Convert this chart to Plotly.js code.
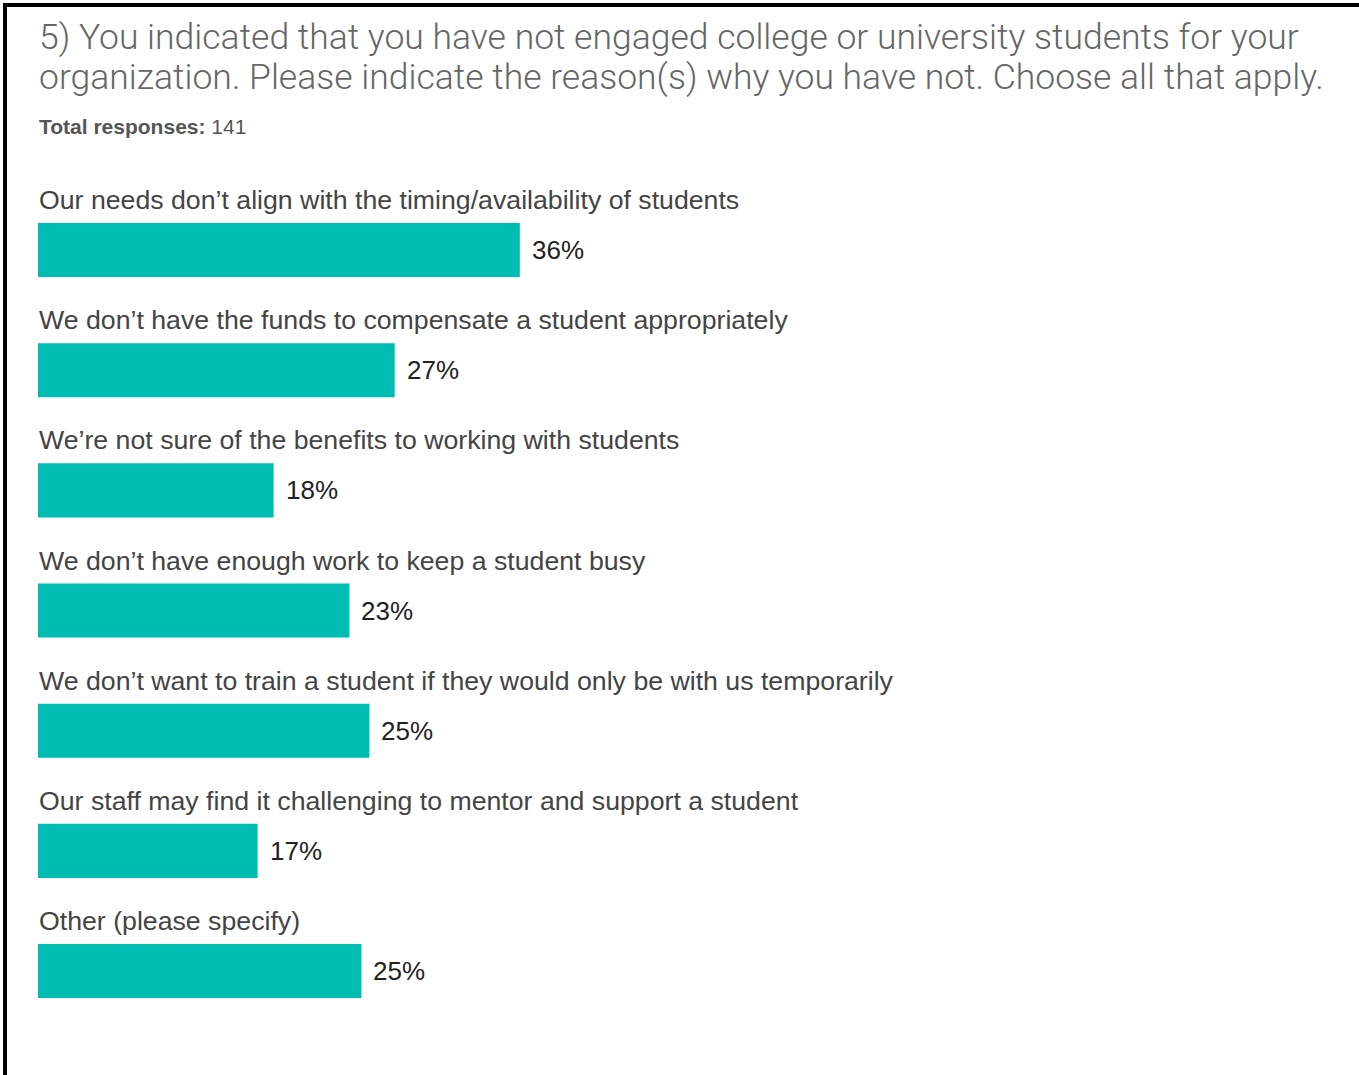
<!DOCTYPE html>
<html>
<head>
<meta charset="utf-8">
<script src="https://cdn.plot.ly/plotly-3.0.1.min.js"></script>
<style>
  html, body { margin: 0; padding: 0; background: #ffffff; }
  #chart { width: 1359px; height: 1075px; }
</style>
</head>
<body>
<div id="chart"></div>
<script>
// ---- Data ----
const reasons = [
  "Our needs don\u2019t align with the timing/availability of students",
  "We don\u2019t have the funds to compensate a student appropriately",
  "We\u2019re not sure of the benefits to working with students",
  "We don\u2019t have enough work to keep a student busy",
  "We don\u2019t want to train a student if they would only be with us temporarily",
  "Our staff may find it challenging to mentor and support a student",
  "Other (please specify)"
];
const percents = [36.2, 26.8, 17.7, 23.4, 24.9, 16.5, 24.3];
const percentLabels = ["36%", "27%", "18%", "23%", "25%", "17%", "25%"];
const totalResponses = 141;
const titleLines = [
  "5) You indicated that you have not engaged college or university students for your",
  "organization. Please indicate the reason(s) why you have not. Choose all that apply."
];

// ---- Layout constants ----
const FIG_W = 1359, FIG_H = 1075;
const M = { l: 38, r: 21, t: 190, b: 37 };
const PLOT_W = FIG_W - M.l - M.r;
const PLOT_H = FIG_H - M.t - M.b;
const PX_PER_PCT = 13.31;
const TEXT_FONT = "'Liberation Sans', Arial, Helvetica, sans-serif";
const BAR_COLOR = "#00bdb3";

const px2x = px => (px - M.l) / PLOT_W;
const py2y = py => 1 - (py - M.t) / PLOT_H;

const trace = {
  type: "bar",
  orientation: "h",
  x: percents,
  y: reasons,
  marker: { color: BAR_COLOR, line: { width: 0 } },
  hoverinfo: "skip",
  showlegend: false
};

const annotations = [];
titleLines.forEach((t, i) => {
  annotations.push({
    xref: "paper", yref: "paper",
    x: 0, y: py2y(37 + i * 40),
    xanchor: "left", yanchor: "middle", xshift: -1,
    text: t, showarrow: false,
    font: { family: "Roboto, 'Liberation Sans', sans-serif", weight: 300, size: 35.5, color: "#666666" }
  });
});
annotations.push({
  xref: "paper", yref: "paper",
  x: 0, y: py2y(126),
  xanchor: "left", yanchor: "middle", xshift: -1,
  text: "<b>Total responses:</b> " + totalResponses,
  showarrow: false,
  font: { family: TEXT_FONT, size: 21, color: "#555555" }
});
reasons.forEach((r, i) => {
  annotations.push({
    xref: "paper", yref: "y",
    x: 0, y: r,
    xanchor: "left", yanchor: "middle",
    yshift: 50, xshift: -1,
    text: r, showarrow: false,
    font: { family: TEXT_FONT, size: 26.7, color: "#444444" }
  });
  annotations.push({
    xref: "x", yref: "y",
    x: percents[i], y: r,
    xanchor: "left", yanchor: "middle",
    xshift: 10,
    text: percentLabels[i], showarrow: false,
    font: { family: TEXT_FONT, size: 26, color: "#222222" }
  });
});

const layout = {
  width: FIG_W, height: FIG_H,
  margin: M,
  paper_bgcolor: "#ffffff",
  plot_bgcolor: "#ffffff",
  bargap: 0.55,
  xaxis: {
    range: [0, PLOT_W / PX_PER_PCT],
    visible: false, fixedrange: true
  },
  yaxis: {
    type: "category",
    autorange: "reversed",
    visible: false, fixedrange: true
  },
  annotations: annotations,
  shapes: [
    { type: "line", xref: "paper", yref: "paper", x0: px2x(3), x1: px2x(FIG_W), y0: py2y(5), y1: py2y(5), line: { color: "#000000", width: 4 } },
    { type: "line", xref: "paper", yref: "paper", x0: px2x(5), x1: px2x(5), y0: py2y(3), y1: py2y(FIG_H), line: { color: "#000000", width: 4 } }
  ]
};

Plotly.newPlot("chart", [trace], layout, { displayModeBar: false, staticPlot: true });
</script>
</body>
</html>
